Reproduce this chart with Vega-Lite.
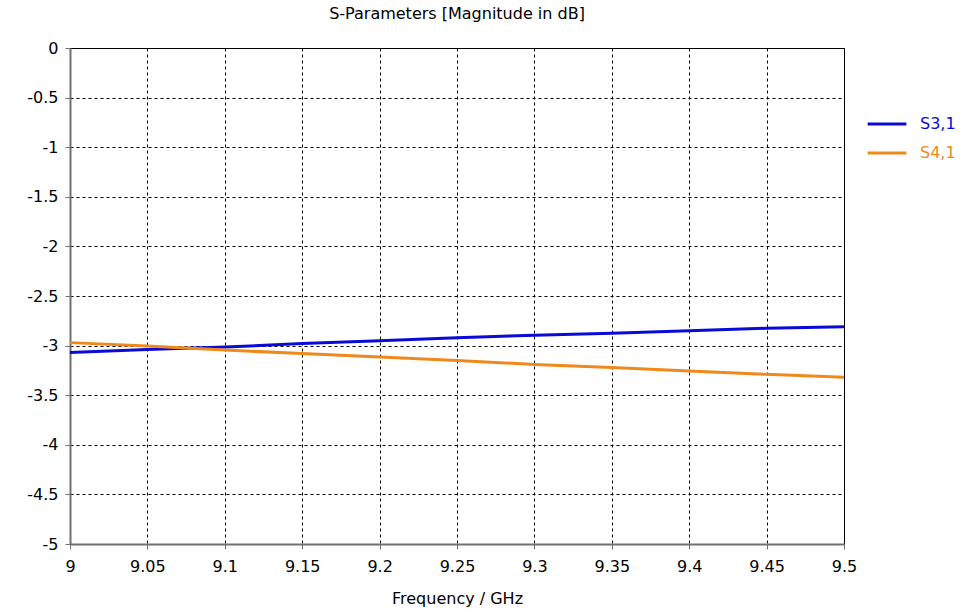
{
  "$schema": "https://vega.github.io/schema/vega-lite/v6.json",
  "autosize": {"type": "none"},
  "width": 774,
  "height": 496,
  "padding": {"left": 70, "top": 48, "right": 135, "bottom": 70},
  "background": "white",
  "config": {
    "font": "DejaVu Sans",
    "view": {"stroke": "#000000", "strokeWidth": 1},
    "title": {"fontSize": 16, "fontWeight": "normal", "color": "#000000"}
  },
  "title": {
    "text": "S-Parameters [Magnitude in dB]",
    "fontSize": 16,
    "fontWeight": "normal",
    "font": "DejaVu Sans",
    "color": "#000000",
    "anchor": "middle",
    "offset": 18
  },
  "data": {
    "values": [
      {"f": 9.0, "s": "S3,1", "db": -3.07},
      {"f": 9.05, "s": "S3,1", "db": -3.04},
      {"f": 9.1, "s": "S3,1", "db": -3.015},
      {"f": 9.15, "s": "S3,1", "db": -2.98},
      {"f": 9.2, "s": "S3,1", "db": -2.95},
      {"f": 9.25, "s": "S3,1", "db": -2.92},
      {"f": 9.3, "s": "S3,1", "db": -2.895},
      {"f": 9.35, "s": "S3,1", "db": -2.875},
      {"f": 9.4, "s": "S3,1", "db": -2.85},
      {"f": 9.45, "s": "S3,1", "db": -2.825},
      {"f": 9.5, "s": "S3,1", "db": -2.81},
      {"f": 9.0, "s": "S4,1", "db": -2.97},
      {"f": 9.05, "s": "S4,1", "db": -3.005},
      {"f": 9.1, "s": "S4,1", "db": -3.045},
      {"f": 9.15, "s": "S4,1", "db": -3.08},
      {"f": 9.2, "s": "S4,1", "db": -3.115},
      {"f": 9.25, "s": "S4,1", "db": -3.15},
      {"f": 9.3, "s": "S4,1", "db": -3.19},
      {"f": 9.35, "s": "S4,1", "db": -3.22},
      {"f": 9.4, "s": "S4,1", "db": -3.255},
      {"f": 9.45, "s": "S4,1", "db": -3.29},
      {"f": 9.5, "s": "S4,1", "db": -3.32}
    ]
  },
  "mark": {"type": "line", "strokeWidth": 3, "interpolate": "linear"},
  "encoding": {
    "x": {
      "field": "f",
      "type": "quantitative",
      "scale": {"domain": [9, 9.5], "nice": false, "zero": false},
      "axis": {
        "title": "Frequency / GHz",
        "titleFont": "DejaVu Sans",
        "titleFontSize": 16,
        "titleFontWeight": "normal",
        "titleColor": "#000000",
        "titlePadding": 16,
        "values": [9, 9.05, 9.1, 9.15, 9.2, 9.25, 9.3, 9.35, 9.4, 9.45, 9.5],
        "labelExpr": "'' + datum.value",
        "labelFontSize": 16,
        "labelColor": "#000000",
        "labelPadding": 9,
        "labelFlush": false,
        "labelOverlap": false,
        "tickSize": 5,
        "tickColor": "#707070",
        "domainColor": "#707070",
        "domainWidth": 2,
        "grid": true,
        "gridColor": "#000000",
        "gridDash": [3, 3],
        "gridWidth": 1
      }
    },
    "y": {
      "field": "db",
      "type": "quantitative",
      "scale": {"domain": [-5, 0], "nice": false, "zero": false},
      "axis": {
        "title": null,
        "values": [0, -0.5, -1, -1.5, -2, -2.5, -3, -3.5, -4, -4.5, -5],
        "labelExpr": "'' + datum.value",
        "labelFontSize": 16,
        "labelColor": "#000000",
        "labelPadding": 7,
        "labelFlush": false,
        "labelOverlap": false,
        "tickSize": 5,
        "tickColor": "#707070",
        "domainColor": "#707070",
        "domainWidth": 2,
        "grid": true,
        "gridColor": "#000000",
        "gridDash": [3, 3],
        "gridWidth": 1
      }
    },
    "color": {
      "field": "s",
      "type": "nominal",
      "scale": {"domain": ["S3,1", "S4,1"], "range": ["#0a0ad8", "#f0891c"]},
      "legend": {
        "title": null,
        "orient": "none",
        "legendX": 796,
        "legendY": 55,
        "symbolType": "stroke",
        "symbolStrokeWidth": 3,
        "symbolSize": 1500,
        "labelFontSize": 16,
        "labelFont": "DejaVu Sans",
        "rowPadding": -2,
        "labelOffset": 12,
        "encode": {
          "labels": {"update": {"fill": {"scale": "color", "field": "value"}}}
        }
      }
    }
  }
}
